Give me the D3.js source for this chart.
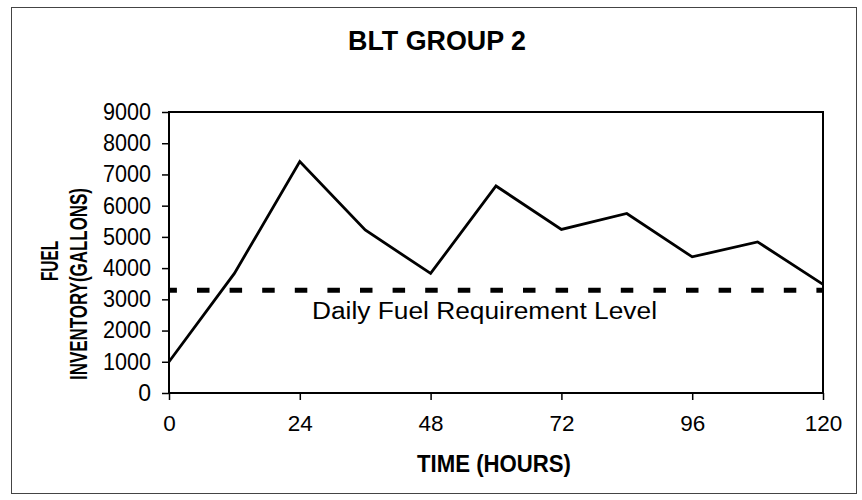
<!DOCTYPE html>
<html><head><meta charset="utf-8">
<script src="https://cdn.jsdelivr.net/npm/d3@7/dist/d3.min.js"></script>
<style>body{margin:0;background:#fff}</style>
</head><body><svg id="c" width="862" height="500"></svg>
<script>
const hours = [0, 12, 24, 36, 48, 60, 72, 84, 96, 108, 120];
const inventory = [1000, 3830, 7410, 5220, 3830, 6630, 5240, 5750, 4360, 4840, 3480];
const requirementLevel = 3290;
const requirementLabel = "Daily Fuel Requirement Level";
const xTicks = [0, 24, 48, 72, 96, 120];
const yTicks = [0, 1000, 2000, 3000, 4000, 5000, 6000, 7000, 8000, 9000];
const chartTitle = "BLT GROUP 2";
const xTitle = "TIME (HOURS)";
const yTitle1 = "FUEL";
const yTitle2 = "INVENTORY(GALLONS)";

const svg = d3.select("#c");
const L = 169, R = 823, T = 112, B = 393;
const x = d3.scaleLinear().domain([0, 120]).range([L, R]);
const y = d3.scaleLinear().domain([0, 9000]).range([B, T]);
const font = "'Liberation Sans', Arial, sans-serif";
const narrow = "'Liberation Sans Narrow', 'Arial Narrow', 'Liberation Sans', Arial, sans-serif";

// outer frame
svg.append("rect").attr("x", 11.5).attr("y", 7.5).attr("width", 845).attr("height", 486)
  .attr("fill", "#fff").attr("stroke", "#444").attr("stroke-width", 1);

// title
svg.append("text").attr("x", 437).attr("y", 50).attr("text-anchor", "middle")
  .attr("font-family", font).attr("font-weight", "bold").attr("font-size", 27.5)
  .attr("textLength", 178).attr("lengthAdjust", "spacingAndGlyphs")
  .text(chartTitle);

// plot background
svg.append("rect").attr("x", L).attr("y", T).attr("width", R - L).attr("height", B - T)
  .attr("fill", "#fff");

// axes
const ya = svg.append("g").attr("transform", `translate(${L},0)`)
  .call(d3.axisLeft(y).tickValues(yTicks).tickSize(7).tickPadding(11).tickFormat(d3.format("d")));
ya.select(".domain").remove();
ya.selectAll("text").attr("font-family", font).attr("font-size", 23).attr("fill", "#000")
  .attr("textLength", 48).attr("lengthAdjust", "spacingAndGlyphs");
ya.selectAll(".tick").filter(d => d === 0).select("text").attr("textLength", null);
ya.selectAll("line").attr("stroke", "#000").attr("stroke-width", 1.5);

const xa = svg.append("g").attr("transform", `translate(0,${B})`)
  .call(d3.axisBottom(x).tickValues(xTicks).tickSize(7).tickPadding(15).tickFormat(d3.format("d")));
xa.select(".domain").remove();
xa.selectAll("text").attr("font-family", font).attr("font-size", 22.5).attr("fill", "#000");
xa.selectAll("line").attr("stroke", "#000").attr("stroke-width", 1.5);

// plot frame
svg.append("rect").attr("x", L).attr("y", T).attr("width", R - L).attr("height", B - T)
  .attr("fill", "none").attr("stroke", "#000").attr("stroke-width", 2);

// requirement dashed line
svg.append("line").attr("x1", x(0)).attr("x2", x(120))
  .attr("y1", y(requirementLevel)).attr("y2", y(requirementLevel))
  .attr("stroke", "#000").attr("stroke-width", 5)
  .attr("stroke-dasharray", "12.5,20.1").attr("stroke-dashoffset", 4.6);

svg.append("text").attr("x", 312).attr("y", 318.5)
  .attr("font-family", font).attr("font-size", 23.5)
  .attr("textLength", 345).attr("lengthAdjust", "spacingAndGlyphs")
  .text(requirementLabel);

// inventory line
const line = d3.line().x((d, i) => x(hours[i])).y(d => y(d));
svg.append("path").datum(inventory).attr("d", line)
  .attr("fill", "none").attr("stroke", "#000").attr("stroke-width", 2.8)
  .attr("stroke-linejoin", "miter");

// axis titles
svg.append("text").attr("x", 494).attr("y", 472).attr("text-anchor", "middle")
  .attr("font-family", narrow).attr("font-weight", "bold").attr("font-size", 23.5)
  .attr("textLength", 154).attr("lengthAdjust", "spacingAndGlyphs")
  .text(xTitle);

svg.append("text").attr("transform", "translate(58,261) rotate(-90)").attr("text-anchor", "middle")
  .attr("font-family", narrow).attr("font-weight", "bold").attr("font-size", 23)
  .attr("textLength", 40).attr("lengthAdjust", "spacingAndGlyphs")
  .text(yTitle1);
svg.append("text").attr("transform", "translate(87,284) rotate(-90)").attr("text-anchor", "middle")
  .attr("font-family", narrow).attr("font-weight", "bold").attr("font-size", 23)
  .attr("textLength", 192).attr("lengthAdjust", "spacingAndGlyphs")
  .text(yTitle2);
</script>
</body></html>
